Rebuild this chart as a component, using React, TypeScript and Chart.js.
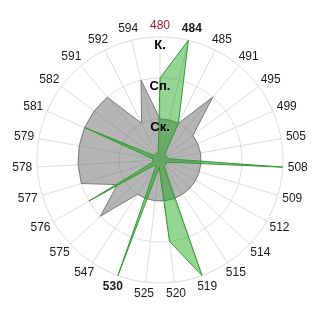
import React, { useEffect, useRef } from "react";
import { Chart, registerables } from "chart.js";

Chart.register(...registerables);

// Category axis labels, clockwise from the top
const categories = [
  "480", "484", "485", "491", "495", "499", "505", "508", "509", "512",
  "514", "515", "519", "520", "525", "530", "547", "575", "576", "577",
  "578", "579", "581", "582", "591", "592", "594",
];

// Level names shown on the radial scale
const levelValues = [1, 2, 3];
const levelNames = ["Ск.", "Сп.", "К."];

// Grey series
const greyValues = [
  1, 1, 1, 2, 1, 1, 1, 1, 1, 1,
  1, 1, 1, 1, 1, 1, 1, 2, 1.2, 2,
  2, 2, 2, 2, 2, 1, 2,
];

// Green series
const greenValues = [
  2, 3, 1, 0.18, 0.18, 0.18, 0.18, 3, 0.18, 0.18,
  0.18, 0.18, 3, 2, 0.18, 3, 0.18, 0.18, 2, 0.18,
  0.18, 0.18, 2, 0.18, 0.18, 0.18, 0.18,
];

const boldCategories = ["484", "530"];
const accentCategory = "480";

const FONT = 'Arial, "Liberation Sans", sans-serif';
const TICK_SIZE = 13;
const LABEL_SIZE = 12;
const LABEL_GAP = 5;

// Category labels placed around the rim, each one pushed outward along its
// spoke by half its own box so the text never overlaps the outer circle.
const rimLabels = {
  id: "rimLabels",
  afterDraw(chart: any) {
    const scale = chart.scales.r;
    const labels: string[] = chart.data.labels;
    const ctx: CanvasRenderingContext2D = chart.ctx;
    const radius = scale.drawingArea + LABEL_GAP;
    ctx.save();
    ctx.textAlign = "center";
    ctx.textBaseline = "middle";
    labels.forEach((label, i) => {
      const bold = boldCategories.includes(label);
      ctx.font = `${bold ? "bold " : ""}${LABEL_SIZE}px ${FONT}`;
      ctx.fillStyle = label === accentCategory ? "#9a1a1a" : "#1a1a1a";
      const angle = scale.getIndexAngle(i);
      const pos = scale.getPointPosition(i, radius);
      const w = ctx.measureText(label).width;
      const h = LABEL_SIZE + 1;
      const x = pos.x + (w / 2) * Math.sin(angle);
      const y = pos.y - (h / 2) * Math.cos(angle);
      ctx.fillText(label, x, y);
    });
    ctx.restore();
  },
};

export default function App() {
  const canvasRef = useRef<HTMLCanvasElement | null>(null);

  useEffect(() => {
    const canvas = canvasRef.current;
    if (!canvas) return;
    const chart = new Chart(canvas, {
      type: "radar",
      data: {
        labels: categories,
        datasets: [
          {
            data: greenValues,
            backgroundColor: "rgba(20, 165, 20, 0.45)",
            borderColor: "#2f9a2f",
            borderWidth: 1,
            fill: true,
          },
          {
            data: greyValues,
            backgroundColor: "rgba(120, 120, 120, 0.55)",
            borderColor: "#7a7a7a",
            borderWidth: 1,
            fill: true,
          },
        ],
      },
      options: {
        responsive: true,
        maintainAspectRatio: false,
        animation: false,
        devicePixelRatio: 1,
        layout: { padding: 29 },
        plugins: {
          legend: { display: false },
          tooltip: { enabled: false },
        },
        elements: {
          line: { tension: 0 },
          point: { radius: 0, hoverRadius: 0 },
        },
        scales: {
          r: {
            min: 0,
            max: 3,
            ticks: {
              stepSize: 1,
              z: 1,
              showLabelBackdrop: false,
              // no backdrop is drawn, so it should not reserve any room
              backdropPadding: -TICK_SIZE / 2,
              color: "#000",
              font: { family: FONT, size: TICK_SIZE, weight: "bold", lineHeight: "8px" },
              callback: (value: any) => {
                const i = levelValues.indexOf(Number(value));
                return i >= 0 ? ["", levelNames[i]] : "";
              },
            },
            grid: { circular: true, color: "#dcdcdc" },
            angleLines: { color: "#dcdcdc" },
            pointLabels: { display: false },
          },
        },
      },
      plugins: [rimLabels],
    });
    return () => chart.destroy();
  }, []);

  return (
    <div style={{ position: "relative", width: 304, height: 304 }}>
      <canvas ref={canvasRef} />
    </div>
  );
}
